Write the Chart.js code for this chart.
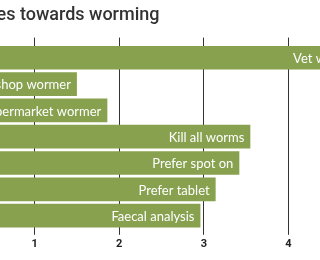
<!DOCTYPE html>
<html>
<head>
<meta charset="utf-8">
<script src="https://cdn.jsdelivr.net/npm/chart.js@4"></script>
<style>
  html, body { margin: 0; padding: 0; background: #fff; overflow: hidden; }
  #wrap { position: absolute; left: -58px; top: 0; width: 434px; height: 260px; }
</style>
</head>
<body>
<div id="wrap"><canvas id="bar1"></canvas></div>
<script>
// worming survey - average score per statement
var labels = ['Vet wormer', 'Pet shop wormer', 'Supermarket wormer', 'Kill all worms', 'Prefer spot on', 'Prefer tablet', 'Faecal analysis'];
var datos = [4.92, 1.5, 1.86, 3.55, 3.42, 3.14, 2.96];
var ticksX = [1, 2, 3, 4];

var green = '#87a14f';

// draws the label inside each bar, right aligned
var labelsInside = {
    id: 'labelsInside',
    afterDatasetsDraw: function (chart) {
        var ctx = chart.ctx;
        var meta = chart.getDatasetMeta(0);
        ctx.save();
        ctx.fillStyle = '#fff';
        ctx.font = '400 13px Lato';
        ctx.textAlign = 'right';
        ctx.textBaseline = 'middle';
        meta.data.forEach(function (bar, i) {
            ctx.fillText(labels[i], bar.x - 6, bar.y + 1);
        });
        ctx.restore();
    }
};

var tickCb = function (v) {
    return ticksX.indexOf(v) >= 0 ? v : '';
};

new Chart(document.getElementById('bar1'), {
    type: 'bar',
    data: {
        labels: labels,
        datasets: [{
            data: datos,
            backgroundColor: green,
            categoryPercentage: 1,
            barPercentage: 0.9
        }]
    },
    options: {
        indexAxis: 'y',
        responsive: true,
        maintainAspectRatio: false,
        animation: false,
        layout: { padding: { top: 0, bottom: 6, left: 0, right: 0 } },
        plugins: {
            legend: { display: false },
            tooltip: { enabled: false },
            title: {
                display: true,
                text: 'Attitudes towards worming',
                align: 'start',
                color: '#333',
                font: { family: 'Roboto', size: 18, weight: '500' },
                padding: { top: 5, bottom: 11 }
            }
        },
        scales: {
            y: {
                display: true,
                grid: { display: false },
                border: { display: false },
                ticks: { display: false },
                afterFit: function (s) { s.width = 8; }
            },
            x: {
                min: 0,
                max: 5,
                position: 'bottom',
                border: { display: false },
                grid: { color: '#333', tickLength: 6, tickColor: '#333' },
                ticks: {
                    stepSize: 1,
                    padding: 3,
                    color: '#222',
                    font: { family: 'Roboto', size: 11, weight: 'bold' },
                    callback: tickCb
                }
            },
            x2: {
                type: 'linear',
                axis: 'x',
                min: 0,
                max: 5,
                position: 'top',
                border: { display: false },
                grid: { drawOnChartArea: false, tickLength: 7, color: '#333' },
                ticks: { display: false, stepSize: 1 }
            }
        }
    },
    plugins: [labelsInside]
});
</script>
</body>
</html>
